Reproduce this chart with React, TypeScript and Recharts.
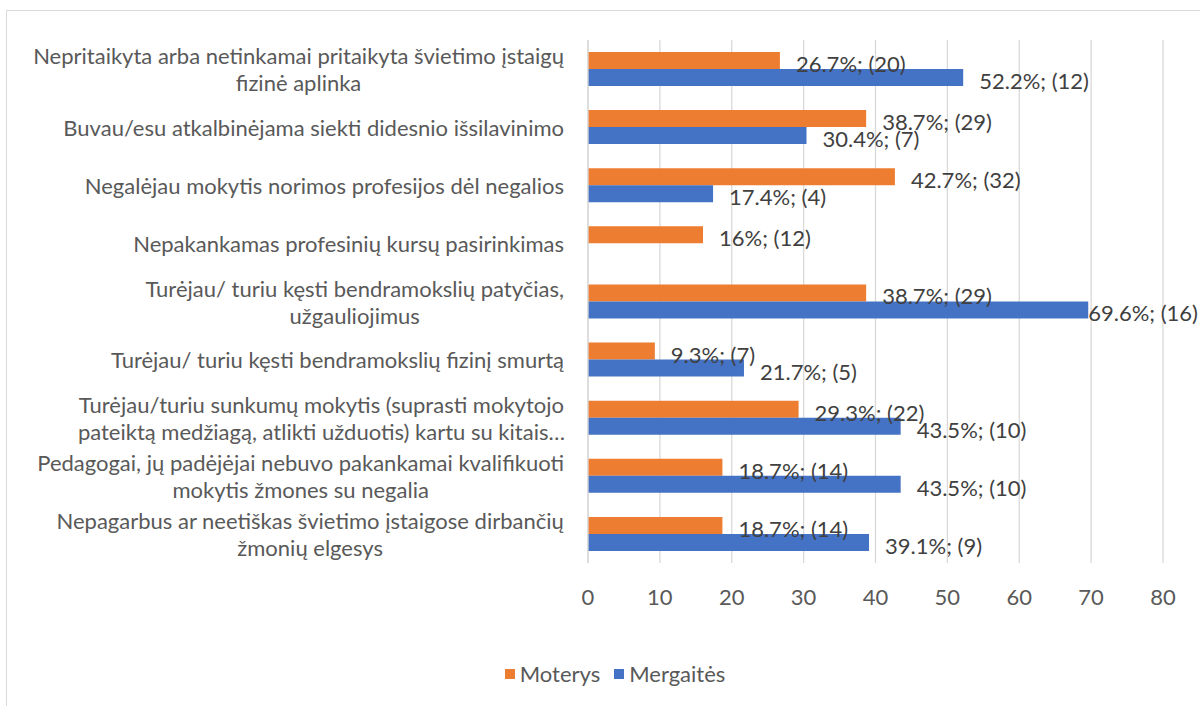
import { BarChart, Bar, XAxis, YAxis, CartesianGrid, Legend, LabelList } from 'recharts'

const CATEGORIES = [
  'Nepritaikyta arba netinkamai pritaikyta švietimo įstaigų\nfizinė aplinka',
  'Buvau/esu atkalbinėjama siekti didesnio išsilavinimo',
  'Negalėjau mokytis norimos profesijos dėl negalios',
  'Nepakankamas profesinių kursų pasirinkimas',
  'Turėjau/ turiu kęsti bendramokslių patyčias,\nužgauliojimus',
  'Turėjau/ turiu kęsti bendramokslių fizinį smurtą',
  'Turėjau/turiu sunkumų mokytis (suprasti mokytojo\npateiktą medžiagą, atlikti užduotis) kartu su kitais…',
  'Pedagogai, jų padėjėjai nebuvo pakankamai kvalifikuoti\nmokytis žmones su negalia',
  'Nepagarbus ar neetiškas švietimo įstaigose dirbančių\nžmonių elgesys',
]

// Moterys (orange)
const MOTERYS_PCT = [26.7, 38.7, 42.7, 16, 38.7, 9.3, 29.3, 18.7, 18.7]
const MOTERYS_N = [20, 29, 32, 12, 29, 7, 22, 14, 14]

// Mergaitės (blue)
const MERGAITES_PCT = [52.2, 30.4, 17.4, null, 69.6, 21.7, 43.5, 43.5, 39.1]
const MERGAITES_N = [12, 7, 4, null, 16, 5, 10, 10, 9]

const X_TICKS = [0, 10, 20, 30, 40, 50, 60, 70, 80]

const SERIES = [
  { key: 'moterys', name: 'Moterys', color: '#ED7D31' },
  { key: 'mergaites', name: 'Mergaitės', color: '#4472C4' },
]

const FONT = 'Lato, "Open Sans", sans-serif'
const FONT_SIZE = 22
const CHART_W = 1200

const fmt = (pct: number | null, n: number | null) => (pct == null ? null : `${pct}%; (${n})`)

const data = CATEGORIES.map((name, i) => ({
  name,
  moterys: MOTERYS_PCT[i],
  mergaites: MERGAITES_PCT[i],
  moterysLabel: fmt(MOTERYS_PCT[i], MOTERYS_N[i]),
  mergaitesLabel: fmt(MERGAITES_PCT[i], MERGAITES_N[i]),
}))

let ctx: CanvasRenderingContext2D | null = null
function measure(text: string) {
  if (!ctx) {
    ctx = document.createElement('canvas').getContext('2d')
  }
  if (!ctx) return text.length * 10
  ctx.font = `${FONT_SIZE}px ${FONT}`
  return ctx.measureText(text).width
}

function CategoryTick(props: any) {
  const { x, y, payload } = props
  const lines: string[] = String(payload.value).split('\n')
  const right = x - 16
  const lineH = 27
  const startY = y - ((lines.length - 1) * lineH) / 2
  if (lines.length === 1) {
    return (
      <text x={right} y={y} textAnchor="end" dominantBaseline="central" fill="#595959" fontSize={FONT_SIZE} fontFamily={FONT}>
        {lines[0]}
      </text>
    )
  }
  const cx = right - measure(lines[0]) / 2
  return (
    <text textAnchor="middle" fill="#595959" fontSize={FONT_SIZE} fontFamily={FONT}>
      {lines.map((l, i) => (
        <tspan key={i} x={cx} y={startY + i * lineH} dominantBaseline="central">
          {l}
        </tspan>
      ))}
    </text>
  )
}

// data label right of the bar; pulled back inside the chart if it would overflow
function ValueLabel(props: any) {
  const { x, y, width, height, value } = props
  if (value == null) return null
  const w = measure(String(value))
  const lx = Math.min(x + width + 16, CHART_W - 2 - w)
  return (
    <text x={lx} y={y + height / 2 + 3} dominantBaseline="central" fill="#404040" fontSize={FONT_SIZE} fontFamily={FONT}>
      {value}
    </text>
  )
}

function LegendContent() {
  return (
    <div style={{ display: 'flex', justifyContent: 'center', gap: 14, fontFamily: FONT, fontSize: FONT_SIZE, color: '#595959' }}>
      {SERIES.map((s) => (
        <div key={s.key} style={{ display: 'flex', alignItems: 'center', gap: 5 }}>
          <div style={{ width: 10, height: 10, background: s.color }} />
          <span>{s.name}</span>
        </div>
      ))}
    </div>
  )
}

export default function App() {
  return (
    <div style={{ position: 'fixed', left: 0, top: 0, width: 1200, height: 706, background: '#fff' }}>
      <div
        style={{
          position: 'absolute',
          left: 6,
          top: 10,
          width: 1210,
          height: 710,
          border: '1px solid #d9d9d9',
        }}
      />
      <BarChart
        width={CHART_W}
        height={706}
        data={data}
        layout="vertical"
        margin={{ top: 40, right: 37, bottom: 0, left: 0 }}
        barGap={0}
        barSize={17}
      >
        <CartesianGrid horizontal={false} stroke="#d9d9d9" strokeWidth={1.3} />
        <XAxis
          type="number"
          domain={[0, 80]}
          ticks={X_TICKS}
          axisLine={false}
          tickLine={false}
          tickMargin={20}
          height={116}
          tick={{ fill: '#595959', fontSize: FONT_SIZE, fontFamily: FONT }}
        />
        <YAxis
          type="category"
          dataKey="name"
          width={588}
          axisLine={{ stroke: '#d9d9d9', strokeWidth: 1.3 }}
          tickLine={false}
          interval={0}
          tick={<CategoryTick />}
        />
        <Legend
          verticalAlign="bottom"
          wrapperStyle={{ left: 400, width: 430, top: 660 }}
          content={<LegendContent />}
        />
        {SERIES.map((s) => (
          <Bar key={s.key} dataKey={s.key} name={s.name} fill={s.color} isAnimationActive={false}>
            <LabelList dataKey={`${s.key}Label`} content={<ValueLabel />} />
          </Bar>
        ))}
      </BarChart>
    </div>
  )
}
